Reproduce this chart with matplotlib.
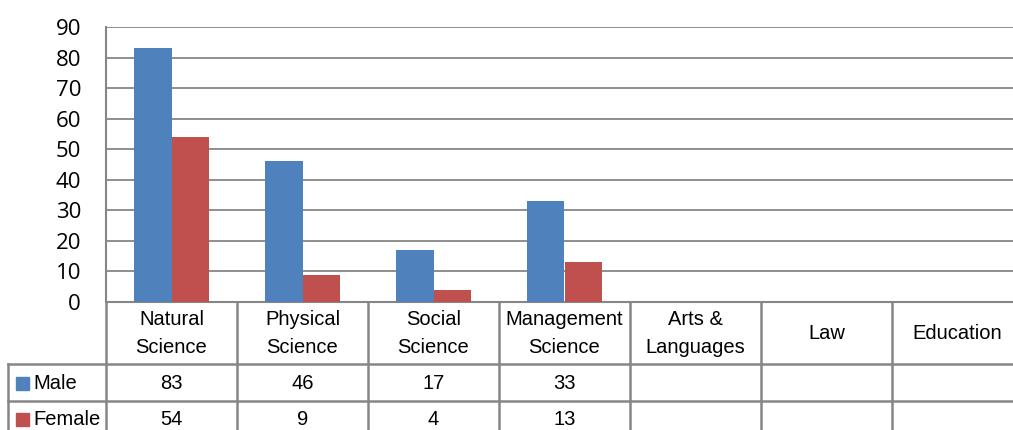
import matplotlib
matplotlib.use("Agg")
import matplotlib.pyplot as plt
from matplotlib.lines import Line2D
from matplotlib.patches import Rectangle
import matplotlib.transforms as mtransforms

categories = ["Natural\nScience", "Physical\nScience", "Social\nScience", "Management\nScience",
              "Arts &\nLanguages", "Law", "Education"]
male = [83, 46, 17, 33, None, None, None]
female = [54, 9, 4, 13, None, None, None]
series_names = ["Male", "Female"]
yticks = [0, 10, 20, 30, 40, 50, 60, 70, 80, 90]

W, H = 1013, 430
BLUE = "#4F81BD"
RED = "#C0504D"
GRID = "#868686"
TFAM = "Liberation Sans"
TSIZE = 14.5

fig = plt.figure(figsize=(W / 100, H / 100), dpi=100)
fig.patch.set_facecolor("white")

def fy(py):
    return 1 - py / H

ax_left, ax_right, ax_top, ax_bot = 106, 1023, 27, 302
ax = fig.add_axes([ax_left / W, fy(ax_bot), (ax_right - ax_left) / W, (ax_bot - ax_top) / H])

n = len(categories)
xs = list(range(n))
bw = 0.283
mv = [v if v is not None else 0 for v in male]
fv = [v if v is not None else 0 for v in female]
ax.bar([x - bw / 2 for x in xs], mv, width=bw, color=BLUE, zorder=3)
ax.bar([x + bw / 2 for x in xs], fv, width=bw, color=RED, zorder=3)

ax.set_xlim(-0.5, n - 0.5)
ax.set_ylim(0, 90)
ax.set_yticks(yticks)
ax.set_yticklabels([str(t) for t in yticks], fontfamily="Open Sans", fontsize=16)
ax.tick_params(axis="y", length=0, pad=18)
ax.set_xticks([])
ax.grid(axis="y", color=GRID, linewidth=1.3, zorder=0)
for s in ["top", "right"]:
    ax.spines[s].set_visible(False)
ax.spines["left"].set_color(GRID)
ax.spines["left"].set_linewidth(1.5)
ax.spines["bottom"].set_color(GRID)
ax.spines["bottom"].set_linewidth(1.5)

# data table below the axes
trans = mtransforms.blended_transform_factory(ax.transData, fig.transFigure)
lw = 1.8
row_header_bot = 364
row_male_bot = 401
table_left_px = 8

for i in range(n + 1):
    b = i - 0.5
    fig.add_artist(Line2D([b, b], [fy(ax_bot), fy(H + 5)], transform=trans, color=GRID, lw=lw))
fig.add_artist(Line2D([table_left_px / W, table_left_px / W], [fy(row_header_bot), fy(H + 5)],
                      transform=fig.transFigure, color=GRID, lw=lw))
for py in [row_header_bot, row_male_bot]:
    fig.add_artist(Line2D([table_left_px / W, 1.02], [fy(py), fy(py)],
                          transform=fig.transFigure, color=GRID, lw=lw))

tfont = dict(fontfamily=TFAM, fontsize=TSIZE, color="black")
hdr_mid = 333.5
for i, c in enumerate(categories):
    fig.text(i, fy(hdr_mid), c, transform=trans, ha="center", va="center",
             linespacing=1.6, **tfont)

rows = [(series_names[0], male, BLUE, 383.5),
        (series_names[1], female, RED, 419.5)]
for name, vals, col, mid in rows:
    sq = 13
    fig.add_artist(Rectangle((16 / W, fy(mid + sq / 2)), sq / W, sq / H,
                             transform=fig.transFigure, color=col))
    fig.text(33 / W, fy(mid), name, ha="left", va="center", **tfont)
    for i, v in enumerate(vals):
        if v is not None:
            fig.text(i, fy(mid), str(v), transform=trans, ha="center", va="center", **tfont)

fig.savefig("out.png", dpi=100, facecolor="white")
